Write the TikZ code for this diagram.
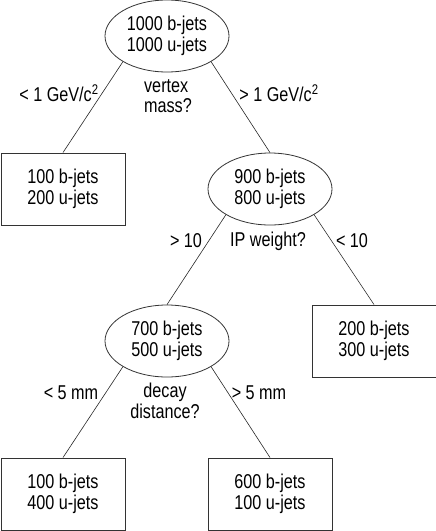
\documentclass[tikz,border=0pt]{standalone}
\usepackage{fontspec}
\setmainfont{Liberation Sans}[FakeStretch=0.81]
\usetikzlibrary{shapes.geometric}

\begin{document}
\begin{tikzpicture}[
  x=1pt,y=-1pt,
  font=\fontsize{20}{20.5}\selectfont,
  split/.style={draw=black!80,line width=.8pt,ellipse,minimum width=124pt,minimum height=72pt,inner sep=0pt,align=center},
  leaf/.style={draw=black!80,line width=.9pt,rectangle,minimum width=124pt,minimum height=72pt,inner sep=0pt,align=center},
  cut/.style={align=center,inner sep=0pt},
  branch/.style={draw=black!85,line width=.6pt}
]
\useasboundingbox (0,0) rectangle (436,531);

% vertex mass
\node[split] (all) at (167,36) {1000 b-jets\\1000 u-jets};
\node[leaf] (lowmass) at (63,189) {100 b-jets\\200 u-jets};
\node[split] (highmass) at (270,189) {900 b-jets\\800 u-jets};
\draw[branch] (all.south west) -- (lowmass.north);
\draw[branch] (all.south east) -- (highmass.north);
\node[cut] (lessmass) at (59,93) {< 1 GeV/c\textsuperscript{2}};
\node[cut,align=left] (massq) at (168,96) {vertex\\mass?};
\node[cut] (moremass) at (279,93) {> 1 GeV/c\textsuperscript{2}};

% IP weight
\node[split] (highip) at (167,341) {700 b-jets\\500 u-jets};
\node[leaf] (lowip) at (374,341) {200 b-jets\\300 u-jets};
\draw[branch] (highmass.south west) -- (highip.north);
\draw[branch] (highmass.south east) -- (lowip.north);
\node[cut] (moreip) at (186,241) {> 10};
\node[cut] (ipq) at (268,241) {IP weight?};
\node[cut] (lessip) at (352,241) {< 10};

% decay distance
\node[leaf] (short) at (63,494) {100 b-jets\\400 u-jets};
\node[leaf] (long) at (270,494) {600 b-jets\\100 u-jets};
\draw[branch] (highip.south west) -- (short.north);
\draw[branch] (highip.south east) -- (long.north);
\node[cut] (lessdist) at (71,393) {< 5 mm};
\node[cut] (distq) at (165,401) {decay\\distance?};
\node[cut] (moredist) at (259,393) {> 5 mm};
\end{tikzpicture}
\end{document}
